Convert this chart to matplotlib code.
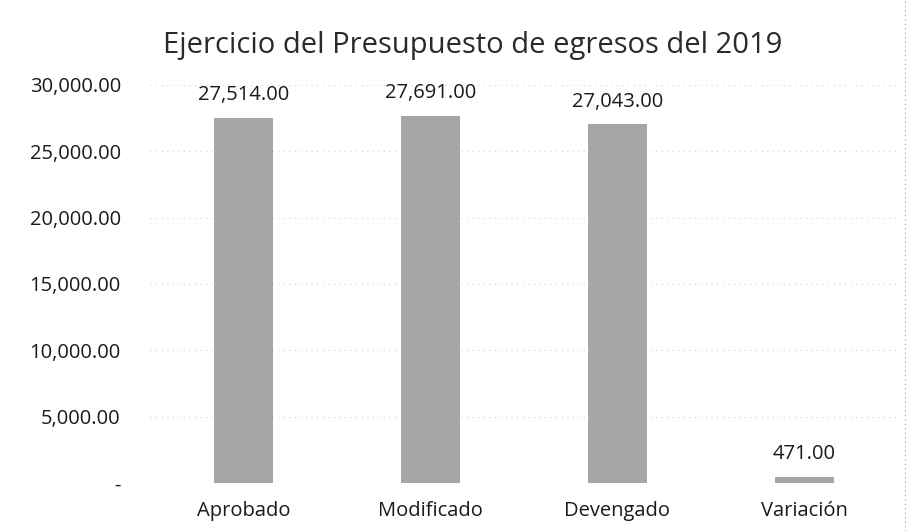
import matplotlib.pyplot as plt
import numpy as np
from matplotlib.ticker import FuncFormatter

categories = ['Aprobado', 'Modificado', 'Devengado', 'Variación']
values = [27514.00, 27691.00, 27043.00, 471.00]
yticks = [0, 5000, 10000, 15000, 20000, 25000, 30000]

plt.rcParams['font.family'] = ['Open Sans', 'DejaVu Sans']

fig = plt.figure(figsize=(9.14, 5.31), dpi=100)
ax = fig.add_axes([150/914, 48/531, 748/914, 398/531])

x = np.arange(len(categories))
ax.bar(x, values, width=0.32, color='#a6a6a6', zorder=2)

for xi, v in zip(x, values):
    ax.annotate(f'{v:,.2f}', (xi, v), xytext=(0, 9), textcoords='offset points',
                ha='center', va='bottom', fontsize=14.5, color='#1a1a1a')

ax.set_xlim(-0.5, len(categories) - 0.5)
ax.set_ylim(0, 30000)
ax.set_yticks(yticks)
ax.yaxis.set_major_formatter(FuncFormatter(lambda v, p: '-' if v == 0 else f'{v:,.2f}'))
ax.set_xticks(x)
ax.set_xticklabels(categories)
ax.tick_params(axis='both', length=0, labelsize=14.5, colors='#1a1a1a')
ax.tick_params(axis='y', pad=21)
ax.tick_params(axis='x', pad=13)

ax.grid(axis='y', color='#d4d4d4', linestyle=(0, (1, 4)), linewidth=0.8, zorder=0)
for s in ax.spines.values():
    s.set_visible(False)

fig.text(473/914, 1 - 46/531, 'Ejercicio del Presupuesto de egresos del 2019',
         ha='center', va='center', fontsize=21, color='#2a2a2a')
fig.add_artist(plt.Line2D([905/914, 905/914], [0, 1], color='#999999',
                          linestyle=(0, (1, 3)), linewidth=0.8))

fig.savefig('out.png', dpi=100)
